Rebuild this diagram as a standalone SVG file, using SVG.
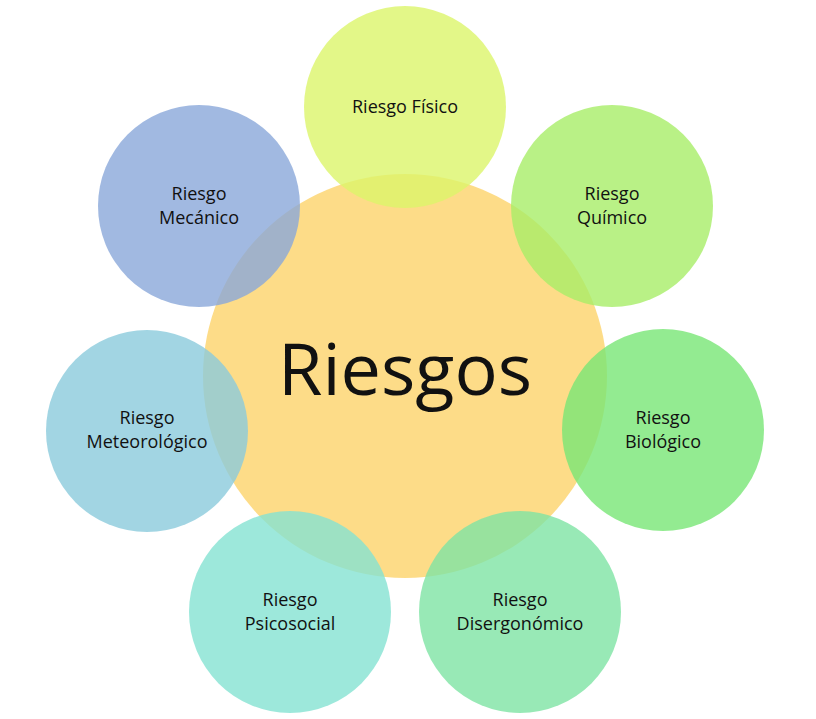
<svg xmlns="http://www.w3.org/2000/svg" width="816" height="719" viewBox="0 0 816 719">
<style>
text{font-family:"Open Sans","Liberation Sans",sans-serif;font-size:18px;fill:#111;text-anchor:middle}
circle{fill-opacity:0.8}
</style>
<rect width="816" height="719" fill="#fff"/>
<g id="center"><circle cx="405" cy="376" r="202" fill="#fdd36a" fill-opacity="0.9"/><text x="405" y="395" style="font-size:72px">Riesgos</text></g>
<g id="fisico"><circle cx="405" cy="107" r="101" fill="#dcf56a"/><text x="405" y="113">Riesgo Físico</text></g>
<g id="quimico"><circle cx="612" cy="206" r="101" fill="#a8ee68"/><text x="612" y="200">Riesgo</text><text x="612" y="224">Químico</text></g>
<g id="biologico"><circle cx="663" cy="430" r="101" fill="#78e676"/><text x="663" y="424">Riesgo</text><text x="663" y="448">Biológico</text></g>
<g id="disergonomico"><circle cx="520" cy="612" r="101" fill="#7ee4a4"/><text x="520" y="606">Riesgo</text><text x="520" y="630">Disergonómico</text></g>
<g id="psicosocial"><circle cx="290" cy="612" r="101" fill="#84e2d2"/><text x="290" y="606">Riesgo</text><text x="290" y="630">Psicosocial</text></g>
<g id="meteorologico"><circle cx="147" cy="431" r="101" fill="#8bcbdc"/><text x="147" y="424">Riesgo</text><text x="147" y="448">Meteorológico</text></g>
<g id="mecanico"><circle cx="199" cy="206" r="101" fill="#8aa8da"/><text x="199" y="200">Riesgo</text><text x="199" y="224">Mecánico</text></g>
<g id="connectors"/>
</svg>
